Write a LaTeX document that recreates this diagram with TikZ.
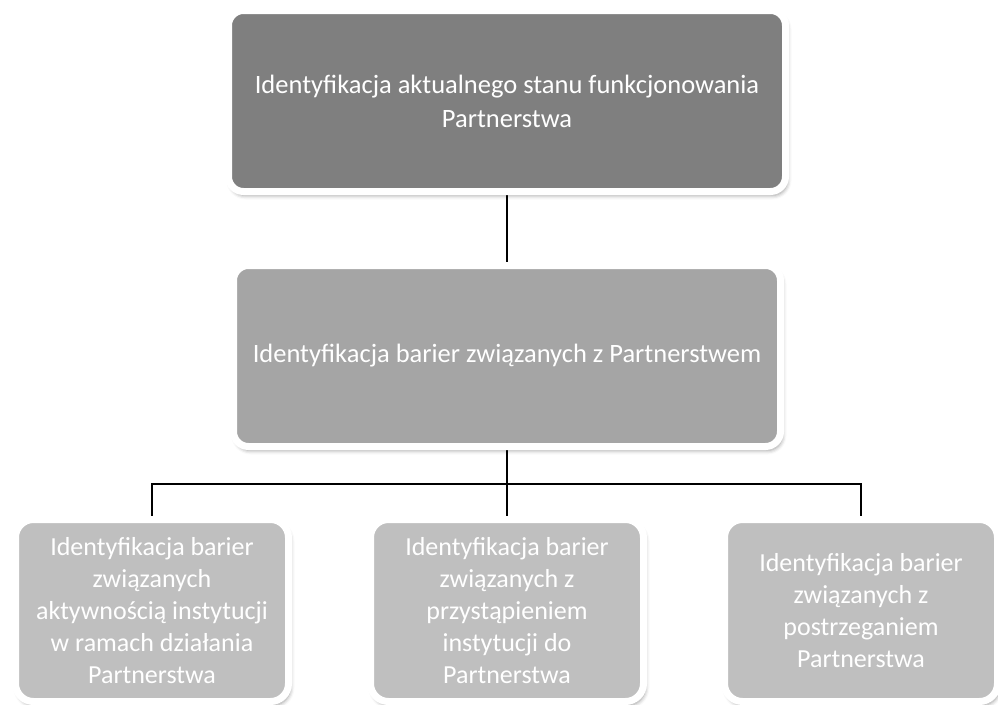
\documentclass[tikz,border=0pt]{standalone}
\usepackage{fontspec}
\setmainfont{Carlito}
\usetikzlibrary{positioning}
\usetikzlibrary{shadows.blur}
\usetikzlibrary{backgrounds}

\definecolor{stagedark}{HTML}{7F7F7F}
\definecolor{stagemid}{HTML}{A5A5A5}
\definecolor{stagelight}{HTML}{BFBFBF}

\tikzset{
    stage/.style={rectangle, rounded corners=15pt, draw=white, line width=7pt, outer sep=0pt,
        text=white, align=center, font=\fontsize{26.5}{34}\selectfont,
        blur shadow={shadow xshift=2pt, shadow yshift=-4pt, shadow blur radius=4pt, shadow opacity=40}},
    topstage/.style={stage, fill=stagedark, minimum width=557pt, minimum height=181pt},
    midstage/.style={stage, fill=stagemid, minimum width=547pt, minimum height=181pt},
    lowstage/.style={stage, fill=stagelight, minimum width=273pt, minimum height=182pt,
        rounded corners=18pt, font=\fontsize{26}{32}\selectfont},
    link/.style={line width=2pt}
}

\begin{document}
\begin{tikzpicture}[x=1pt, y=1pt]
            \useasboundingbox (0,0) rectangle (998,-704);

            \node(top) [topstage] at (507,-101) {Identyfikacja aktualnego stanu funkcjonowania\\Partnerstwa};
            \node(mid) [midstage, below=74pt of top] {Identyfikacja barier związanych z Partnerstwem};

            \node(access) [lowstage, below=73pt of mid] {Identyfikacja barier\\związanych z\\przystąpieniem\\instytucji do\\Partnerstwa};
            \node(activity) [lowstage, left=82pt of access] {Identyfikacja barier\\związanych\\aktywnością instytucji\\w ramach działania\\Partnerstwa};
            \node(percept) [lowstage, right=81pt of access] {Identyfikacja barier\\związanych z\\postrzeganiem\\Partnerstwa};

            \coordinate[below=37pt of mid.south] (bus);

            \begin{scope}[on background layer]
                \draw[link] (top) -- (mid);
                \draw[link] (mid) -- (access);
                \draw[link] (activity.north) |- (bus) -| (percept.north);
            \end{scope}
        \end{tikzpicture}
\end{document}
